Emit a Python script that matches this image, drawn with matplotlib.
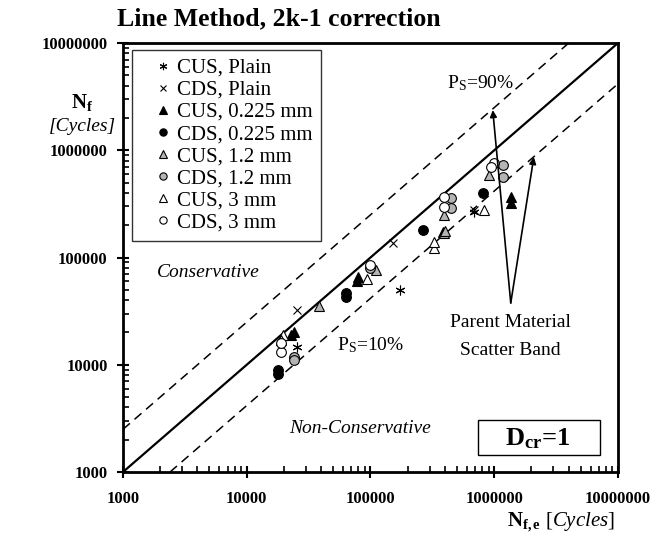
import matplotlib
matplotlib.use('Agg')
import matplotlib.pyplot as plt
from matplotlib.patches import Rectangle
from matplotlib.ticker import FixedLocator, LogLocator, NullFormatter

plt.rcParams['font.family'] = 'Liberation Serif'
plt.rcParams['mathtext.fontset'] = 'custom'
plt.rcParams['mathtext.rm'] = 'Liberation Serif'
plt.rcParams['mathtext.it'] = 'Liberation Serif:italic'
plt.rcParams['mathtext.bf'] = 'Liberation Serif:bold'

# Experimental vs estimated life (cycles)
cus_plain_x = [25500, 172000, 682000]
cus_plain_y = [14700, 49800, 266000]
cds_plain_x = [25500, 153000, 690000]
cds_plain_y = [32400, 136000, 275000]
cus_0225_x = [23900, 22800, 78000, 80000, 383000, 1360000, 1360000]
cus_0225_y = [20300, 19000, 60000, 66000, 173000, 366000, 322000]
cds_0225_x = [18000, 18000, 63000, 63000, 268000, 807000]
cds_0225_y = [9000, 8200, 47000, 43000, 180000, 399000]
cus_12_x = [38600, 110000, 390000, 400000, 390000, 902000]
cus_12_y = [35300, 77000, 170000, 175000, 249000, 587000]
cds_12_x = [23900, 24200, 100000, 445000, 445000, 1170000, 1170000]
cds_12_y = [11900, 11000, 80000, 359000, 288000, 728000, 562000]
cus_3_x = [19600, 19000, 94600, 324000, 324000, 822000]
cus_3_y = [18900, 17000, 62700, 123000, 140000, 277000]
cds_3_x = [18900, 18900, 100000, 390000, 390000, 991000, 950000]
cds_3_y = [13200, 15800, 85000, 366000, 296000, 760000, 700000]

# scatter band factors of the parent material
band_up = 2.5
band_low = 2.4
lims = [1000, 10000000]
tick_vals = [1000, 10000, 100000, 1000000, 10000000]

fig = plt.figure(figsize=(6.72, 5.4), dpi=100)
ax = fig.add_axes([0.1830, 0.1259, 0.7366, 0.7944])
ax.set_xscale('log')
ax.set_yscale('log')
ax.set_xlim(lims)
ax.set_ylim(lims)

ax.plot(lims, lims, color='black', lw=1.6, zorder=2)
ax.plot([lims[0], lims[1] / band_up], [lims[0] * band_up, lims[1]],
        color='black', lw=1.1, dashes=(6, 4), zorder=2)
ax.plot([lims[0] * band_low, lims[1]], [lims[0], lims[1] / band_low],
        color='black', lw=1.1, dashes=(6, 4), zorder=2)

gray = '#b4b4b4'
ms = 7
ax.plot(cus_plain_x, cus_plain_y, ls='none', marker=(6, 2, 0), ms=ms, mec='black',
        mew=0.8, label='CUS, Plain', zorder=3)
ax.plot(cds_plain_x, cds_plain_y, ls='none', marker='x', ms=6, mec='black',
        mew=0.8, label='CDS, Plain', zorder=3)
ax.plot(cus_0225_x, cus_0225_y, ls='none', marker='^', ms=ms, mfc='black', mec='black',
        mew=0.8, label='CUS, 0.225 mm', zorder=3)
ax.plot(cds_0225_x, cds_0225_y, ls='none', marker='o', ms=ms, mfc='black', mec='black',
        mew=0.8, label='CDS, 0.225 mm', zorder=3)
ax.plot(cus_12_x, cus_12_y, ls='none', marker='^', ms=ms, mfc=gray, mec='black',
        mew=0.8, label='CUS, 1.2 mm', zorder=3)
ax.plot(cds_12_x, cds_12_y, ls='none', marker='o', ms=ms, mfc=gray, mec='black',
        mew=0.8, label='CDS, 1.2 mm', zorder=3)
ax.plot(cus_3_x, cus_3_y, ls='none', marker='^', ms=ms, mfc='white', mec='black',
        mew=0.8, label='CUS, 3 mm', zorder=3)
ax.plot(cds_3_x, cds_3_y, ls='none', marker='o', ms=ms, mfc='white', mec='black',
        mew=0.8, label='CDS, 3 mm', zorder=3)

leg = ax.legend(loc='upper left', bbox_to_anchor=(0.018, 0.984), borderaxespad=0,
                fontsize=15, frameon=True, fancybox=False, handlelength=2.2,
                handletextpad=-0.45, labelspacing=0.12, borderpad=0.4,
                markerscale=0.75)
leg.get_frame().set_edgecolor('black')
leg.get_frame().set_linewidth(1.0)

# ticks
ax.xaxis.set_major_locator(FixedLocator(tick_vals))
ax.yaxis.set_major_locator(FixedLocator(tick_vals))
ax.xaxis.set_minor_locator(LogLocator(base=10, subs=range(2, 10), numticks=20))
ax.yaxis.set_minor_locator(LogLocator(base=10, subs=range(2, 10), numticks=20))
ax.xaxis.set_minor_formatter(NullFormatter())
ax.yaxis.set_minor_formatter(NullFormatter())
ax.set_xticklabels([str(v) for v in tick_vals], fontsize=12, fontweight='bold')
ax.set_yticklabels([str(v) for v in tick_vals], fontsize=12, fontweight='bold')
ax.tick_params(which='major', direction='inout', length=8, width=1.5, pad=7)
ax.tick_params(axis='x', which='major', pad=10)
ax.tick_params(which='minor', direction='in', length=4, width=1.2)
ax.tick_params(top=False, right=False, which='both')
for s in ax.spines.values():
    s.set_linewidth(2.0)

# annotations
ax.text(4880, 73000, 'Conservative', fontsize=14, style='italic', ha='center', va='center')
ax.text(83000, 2570, 'Non-Conservative', fontsize=14, style='italic', ha='center', va='center')
ax.text(100000, 15300, r'P$_\mathregular{S}$=10%', fontsize=14, ha='center', va='center')
ax.text(778000, 4240000, r'P$_\mathregular{S}$=90%', fontsize=14, ha='center', va='center')
ax.text(1360000, 25000, 'Parent Material', fontsize=14, ha='center', va='center')
ax.text(1360000, 13700, 'Scatter Band', fontsize=14, ha='center', va='center')
arrow = dict(arrowstyle='-|>', color='black', lw=1.2, mutation_scale=10, shrinkA=0, shrinkB=0)
ax.annotate('', xy=(973000, 2370000), xytext=(1360000, 37700), arrowprops=arrow)
ax.annotate('', xy=(2090000, 865000), xytext=(1360000, 37700), arrowprops=arrow)

ax.add_patch(Rectangle((0.717, 0.040), 0.247, 0.081, transform=ax.transAxes,
                       fc='white', ec='black', lw=1.0, zorder=4))
ax.text(0.838, 0.078, r'D$_\mathregular{cr}$=1', transform=ax.transAxes, fontsize=19,
        fontweight='bold', ha='center', va='center', zorder=5)

fig.text(0.415, 0.965, 'Line Method, 2k-1 correction', fontsize=18.5, fontweight='bold',
         ha='center', va='center')
fig.text(0.122, 0.81, r'$\mathbf{N_f}$', fontsize=15, ha='center', va='center')
fig.text(0.122, 0.765, '[Cycles]', fontsize=14, style='italic', ha='center', va='center')
fig.text(0.835, 0.033, r'$\mathbf{N_{f,e}}$ $\mathit{[Cycles]}$', fontsize=15,
         ha='center', va='center')

fig.savefig('out.png', dpi=100)
